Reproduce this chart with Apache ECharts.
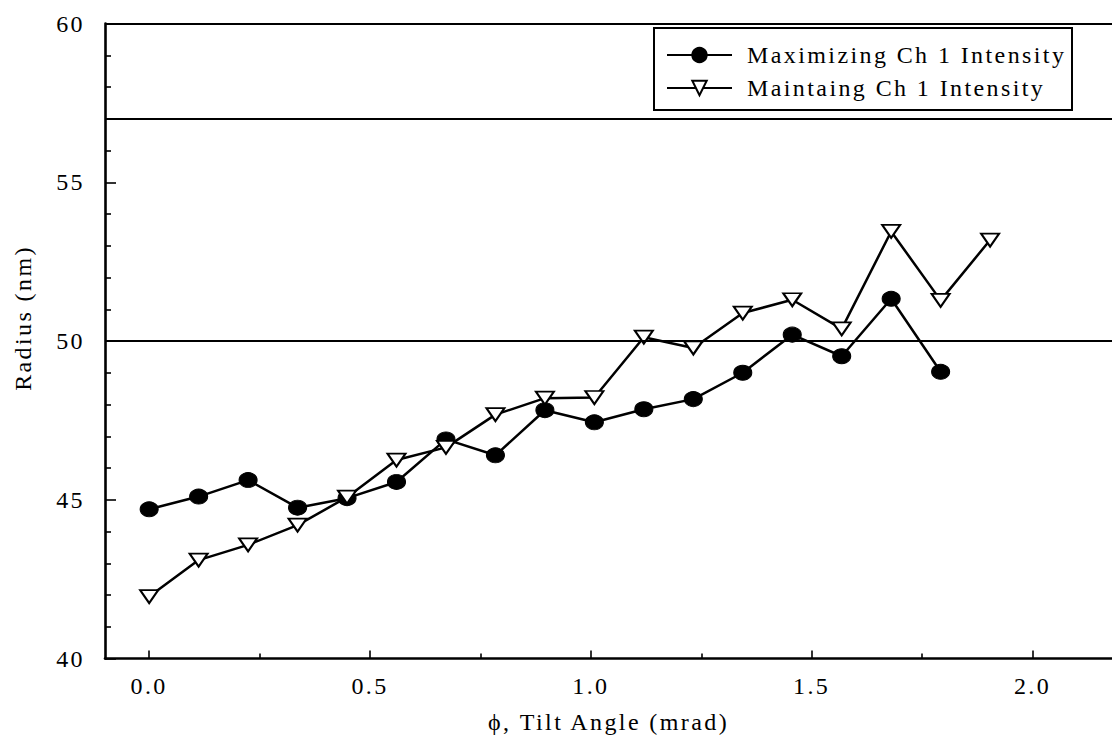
<!DOCTYPE html>
<html>
<head>
<meta charset="utf-8">
<script src="https://cdn.jsdelivr.net/npm/echarts@6/dist/echarts.min.js"></script>
<style>
  html, body { margin: 0; padding: 0; background: #fff; }
  #chart { width: 1112px; height: 741px; }
  #chart text { letter-spacing: 2.4px; }
</style>
</head>
<body>
<div id="chart"></div>
<script>
// Tilt angle (mrad) of each measurement step
const tiltAngle = [0.000, 0.112, 0.224, 0.336, 0.448, 0.560, 0.672, 0.784, 0.896,
                   1.008, 1.120, 1.232, 1.344, 1.456, 1.568, 1.680, 1.792, 1.904];

// Radius (nm) while maximizing the channel 1 intensity
const maximizing = [44.70, 45.10, 45.62, 44.75, 45.05, 45.56, 46.90, 46.40, 47.82,
                    47.44, 47.85, 48.17, 49.00, 50.20, 49.52, 51.33, 49.03];

// Radius (nm) while maintaining the channel 1 intensity
const maintaining = [41.95, 43.10, 43.58, 44.20, 45.08, 46.25, 46.65, 47.68, 48.20,
                     48.22, 50.12, 49.78, 50.88, 51.30, 50.38, 53.45, 51.28, 53.18];

const xLabelTicks = [0.0, 0.5, 1.0, 1.5, 2.0];
const referenceLines = [50, 57, 60];

const seriesNames = ['Maximizing Ch 1 Intensity', 'Maintaing Ch 1 Intensity'];
const xTitle = '\u03D5, Tilt Angle (mrad)';
const yTitle = 'Radius (nm)';

const serif = 'Liberation Serif';

function pairs(values) {
  return values.map((v, i) => [tiltAngle[i], v]);
}

const chart = echarts.init(document.getElementById('chart'), null, { renderer: 'svg' });

chart.setOption({
  animation: false,
  backgroundColor: '#fff',
  grid: { left: 105, right: 0, top: 23.5, bottom: 82.5, containLabel: false },
  xAxis: {
    type: 'value',
    min: -0.1,
    max: 2.18,
    splitNumber: 5,
    minInterval: 0.5,
    maxInterval: 0.5,
    axisLine: { show: true, onZero: false, lineStyle: { color: '#000', width: 2.6 } },
    axisTick: { show: true, inside: true, length: 8, customValues: xLabelTicks,
                lineStyle: { color: '#000', width: 1.6 } },
    minorTick: { show: true, splitNumber: 2, length: 5, lineStyle: { color: '#000', width: 1.6 } },
    splitLine: { show: false },
    minorSplitLine: { show: false },
    axisLabel: {
      margin: 15,
      color: '#000',
      fontFamily: serif,
      fontSize: 24,
      customValues: xLabelTicks,
      formatter: v => Number(v).toFixed(1)
    },
    name: xTitle,
    nameLocation: 'middle',
    nameGap: 51,
    nameTextStyle: { color: '#000', fontFamily: serif, fontSize: 24 }
  },
  yAxis: {
    type: 'value',
    min: 40,
    max: 60,
    interval: 5,
    axisLine: { show: true, onZero: false, lineStyle: { color: '#000', width: 2.6 } },
    axisTick: { show: true, inside: true, length: 11, lineStyle: { color: '#000', width: 1.6 } },
    minorTick: { show: true, splitNumber: 5, length: 6, lineStyle: { color: '#000', width: 1.6 } },
    splitLine: { show: false },
    minorSplitLine: { show: false },
    axisLabel: { margin: 20, color: '#000', fontFamily: serif, fontSize: 24 },
    name: yTitle,
    nameLocation: 'middle',
    nameGap: 70,
    nameTextStyle: { color: '#000', fontFamily: serif, fontSize: 24, padding: [0, 0, 0, 46] }
  },
  legend: {
    orient: 'vertical',
    left: 666,
    top: 43,
    padding: 0,
    itemGap: 9,
    itemWidth: 65,
    itemHeight: 18,
    data: seriesNames,
    textStyle: { color: '#000', fontFamily: serif, fontSize: 24, lineHeight: 24, padding: [0, 0, 0, 10] }
  },
  graphic: [{
    type: 'rect',
    z: -1,
    shape: { x: 654, y: 28, width: 418, height: 82 },
    style: { fill: '#fff', stroke: '#000', lineWidth: 2 }
  }],
  series: [
    {
      name: seriesNames[0],
      type: 'line',
      data: pairs(maximizing),
      symbol: 'circle',
      symbolSize: [18, 15],
      showAllSymbol: true,
      itemStyle: { color: '#000', borderColor: '#000', borderWidth: 1 },
      lineStyle: { color: '#000', width: 2.5 },
      emphasis: { disabled: true },
      markLine: {
        silent: true,
        symbol: 'none',
        label: { show: false },
        lineStyle: { color: '#000', width: 1.8, type: 'solid' },
        data: referenceLines.map(v => ({ yAxis: v }))
      }
    },
    {
      name: seriesNames[1],
      type: 'line',
      data: pairs(maintaining),
      symbol: 'triangle',
      symbolRotate: 180,
      symbolSize: [18, 13],
      showAllSymbol: true,
      itemStyle: { color: '#fff', borderColor: '#000', borderWidth: 2 },
      lineStyle: { color: '#000', width: 2.5 },
      emphasis: { disabled: true }
    }
  ]
});

// Per-title letter spacing on the rendered SVG text
chart.on('finished', () => {
  document.querySelectorAll('#chart text').forEach(el => {
    const t = el.textContent;
    if (t === xTitle) el.style.letterSpacing = '2.6px';
    else if (t === yTitle) el.style.letterSpacing = '0px';
  });
});
</script>
</body>
</html>
